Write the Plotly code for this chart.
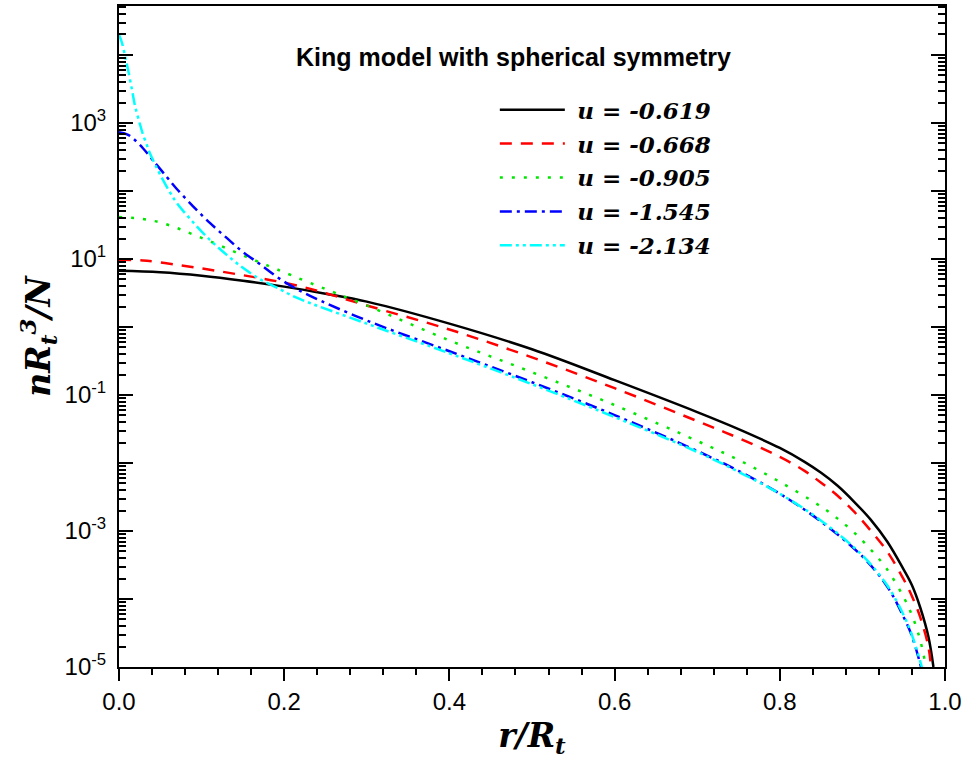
import plotly.graph_objects as go

# ---------------- data ----------------
r_619 = [0, 0.05, 0.1, 0.15, 0.2, 0.25, 0.3, 0.4, 0.5, 0.6, 0.7, 0.75, 0.8, 0.83,
         0.85, 0.87, 0.89, 0.91, 0.93, 0.95, 0.96, 0.97, 0.98, 0.986]
n_619 = [6.7, 6.38, 5.68, 4.80, 3.92, 3.09, 2.36, 1.12, 0.47, 0.165, 0.056, 0.0315,
         0.01663, 0.01038, 0.00716, 0.00462, 0.00269, 0.00147, 7.0e-4, 2.7e-4,
         1.59e-4, 7.5e-5, 2.75e-5, 1.0e-5]

r_668 = [0, 0.029, 0.07, 0.11, 0.15, 0.191, 0.2307, 0.3, 0.4, 0.5, 0.6, 0.7, 0.75,
         0.8, 0.83, 0.85, 0.87, 0.89, 0.91, 0.93, 0.95, 0.96, 0.97, 0.98, 0.983]
n_668 = [9.7, 9.5, 8.22, 6.95, 5.77, 4.71, 3.66, 2.07, 0.918, 0.357, 0.126, 0.0413,
         0.0233, 0.01227, 0.00766, 0.00512, 0.0033, 0.00192, 0.001014, 4.99e-4,
         1.94e-4, 1.10e-4, 5.4e-5, 1.96e-5, 1.0e-5]

r_905 = [0, 0.029, 0.0495, 0.07, 0.0894, 0.11, 0.1304, 0.15, 0.17, 0.191, 0.2307,
         0.3, 0.4, 0.5, 0.6, 0.7, 0.75, 0.8, 0.85, 0.87, 0.89, 0.91, 0.93, 0.95,
         0.96, 0.97, 0.977]
n_905 = [41.5, 38.8, 34.5, 28.6, 23.0, 18.2, 14.3, 11.3, 8.95, 7.06, 4.48, 2.07,
         0.634, 0.216, 0.071, 0.0211, 0.0111, 0.00528, 0.00228, 0.00152, 9.5e-4,
         5.35e-4, 2.72e-4, 1.06e-4, 5.77e-5, 2.48e-5, 1.0e-5]

r_1545 = [0, 0.0097, 0.0169, 0.029, 0.041, 0.058, 0.07, 0.0894, 0.11, 0.1304, 0.15,
          0.17, 0.191, 0.21, 0.2307, 0.3, 0.4, 0.5, 0.6, 0.7, 0.75, 0.8, 0.85, 0.9,
          0.93, 0.95, 0.96, 0.971]
n_1545 = [728, 681, 595, 425, 283, 160, 107, 60, 33.9, 20.4, 12.7, 8.5, 5.48, 3.92,
          2.89, 1.245, 0.44, 0.154, 0.0506, 0.01503, 0.00766, 0.00353, 0.001375,
          4.22e-4, 1.53e-4, 5.4e-5, 2.84e-5, 1.0e-5]

r_2134 = [0, 0.0036, 0.0072, 0.0109, 0.0157, 0.0193, 0.0254, 0.029, 0.0338, 0.0374,
          0.0435, 0.0495, 0.0616, 0.07, 0.0894, 0.11, 0.1304, 0.15, 0.17, 0.191,
          0.215, 0.3, 0.4, 0.5, 0.6, 0.7, 0.75, 0.8, 0.85, 0.9, 0.93, 0.95, 0.96,
          0.972]
n_2134 = [1.98e4, 1.51e4, 9.8e3, 6.1e3, 3.1e3, 1.81e3, 955, 681, 470, 359, 248, 177,
          96, 66.5, 35, 19.1, 11.5, 7.4, 5.1, 3.8, 2.7, 1.12, 0.41, 0.144, 0.0473,
          0.01456, 0.00741, 0.00353, 0.00142, 4.37e-4, 1.59e-4, 5.77e-5, 2.94e-5,
          1.0e-5]

u_labels = ["-0.619", "-0.668", "-0.905", "-1.545", "-2.134"]

x_tickvals = [0, 0.2, 0.4, 0.6, 0.8, 1.0]
x_ticktext = ["0.0", "0.2", "0.4", "0.6", "0.8", "1.0"]
y_exponents = list(range(-5, 5))

title_text = "King model with spherical symmetry"

# ---------------- figure ----------------
colors = ["#000000", "#ff0000", "#00e600", "#0000ff", "#00ffff"]
dashes = ["solid", "12px,9px", "3px,9px", "12px,5px,3px,5px", "12px,4px,3px,4px,3px,4px"]
xs = [r_619, r_668, r_905, r_1545, r_2134]
ys = [n_619, n_668, n_905, n_1545, n_2134]

fig = go.Figure()
for u, x, y, c, d in zip(u_labels, xs, ys, colors, dashes):
    fig.add_trace(go.Scatter(
        x=x, y=y, mode="lines",
        name="&nbsp;<b><i>u</i> = <i>%s</i></b>" % u,
        legendgroup=u,
        line=dict(color=c, width=2.5, dash=d, shape="spline", smoothing=1.0),
    ))

y_tickvals = [10.0 ** k for k in y_exponents]
y_ticktext = ["10<sup>%d</sup>" % k if k % 2 != 0 else "" for k in y_exponents]
y_minor = [m * 10.0 ** k for k in range(-5, 5) for m in range(2, 10)]

serif = "DejaVu Serif, Liberation Serif, serif"
axis_font = dict(family="Liberation Sans, Arial", size=24, color="black")
title_font = dict(family=serif, size=33, color="black")

fig.update_layout(
    width=968, height=763,
    margin=dict(l=119, r=23, t=4, b=96),
    paper_bgcolor="white", plot_bgcolor="white",
    showlegend=True,
    legend=dict(
        x=0.455, y=0.8756, xanchor="left", yanchor="top",
        bgcolor="rgba(0,0,0,0)", tracegroupgap=1, itemwidth=65,
        font=dict(family=serif, size=23, color="black"),
    ),
    xaxis=dict(
        range=[0, 1], tickmode="array", tickvals=x_tickvals, ticktext=x_ticktext,
        ticks="outside", ticklen=12, tickwidth=2, tickcolor="black",
        minor=dict(dtick=0.04, tick0=0, ticks="outside", ticklen=6, tickwidth=2, tickcolor="black"),
        showline=True, linewidth=2, linecolor="black", mirror=True,
        showgrid=False, zeroline=False, tickfont=axis_font,
        title=dict(text="<b><i>r/R<sub>t</sub></i></b>", font=title_font, standoff=10),
    ),
    xaxis2=dict(
        range=[0, 1], overlaying="x", side="top", anchor="y",
        tickmode="array", tickvals=x_tickvals,
        ticks="inside", ticklen=12, tickwidth=2, tickcolor="black",
        minor=dict(dtick=0.04, tick0=0, ticks="inside", ticklen=6, tickwidth=2, tickcolor="black"),
        showticklabels=False, showline=False, showgrid=False, zeroline=False,
    ),
    yaxis=dict(
        type="log", range=[-5, 4.72], tickmode="array",
        tickvals=y_tickvals, ticktext=y_ticktext,
        ticks="inside", ticklen=14, tickwidth=2, tickcolor="black",
        minor=dict(tickmode="array", tickvals=y_minor, ticks="inside", ticklen=7,
                   tickwidth=2, tickcolor="black"),
        showline=True, linewidth=2, linecolor="black", mirror="allticks",
        showgrid=False, zeroline=False, tickfont=axis_font, ticklabelstandoff=6,
        title=dict(text="<b><i>nR<sub>t</sub><sup>3</sup>/N</i></b>", font=title_font, standoff=4),
    ),
    annotations=[dict(
        text="<b>%s</b>" % title_text, x=0.477, y=0.923, xref="paper", yref="paper",
        xanchor="center", yanchor="middle", showarrow=False,
        font=dict(family="Liberation Sans, Arial", size=25, color="black"),
    )],
)

fig.write_html("out.html")
